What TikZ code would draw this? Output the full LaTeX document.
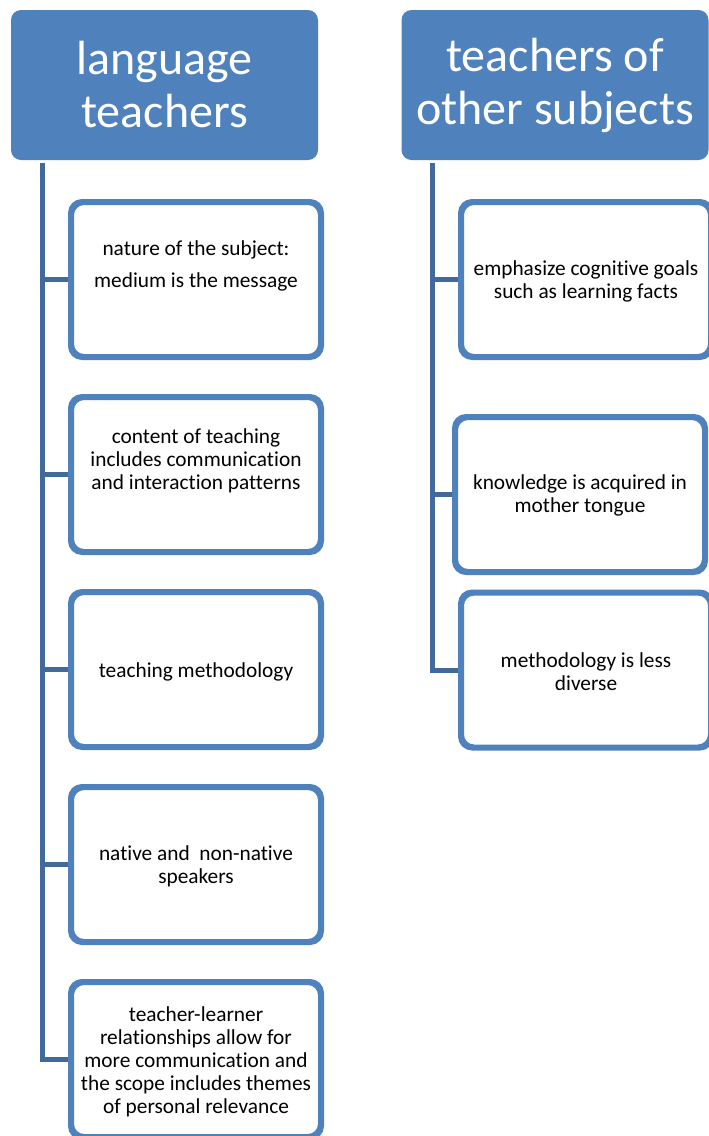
\documentclass[tikz,border=0pt]{standalone}
\usepackage{fontspec}
\setmainfont{Carlito}[Ligatures=NoCommon]
\definecolor{headblue}{HTML}{4F81BD}
\definecolor{boxblue}{HTML}{4F81BD}
\definecolor{linkblue}{HTML}{41699B}
\begin{document}
\begin{tikzpicture}[x=0.75pt,y=-0.75pt,
  header/.style={draw=none,fill=headblue,rounded corners=7.5pt,
    minimum width=230.25pt,minimum height=112.5pt,inner sep=0pt,
    text=white,align=center,font=\fontsize{36}{39.75}\selectfont},
  itembox/.style={draw=boxblue,line width=3pt,fill=white,rounded corners=9pt,
    minimum width=186pt,minimum height=114.75pt,inner sep=0pt},
  itemtext/.style={align=center,inner sep=0pt,text=black,yshift=-1.5pt,
    font=\fontsize{16}{17.25}\selectfont},
  link/.style={draw=linkblue,line width=3.75pt}]
\useasboundingbox (0,0) rectangle (709,1136);

% column headings
\node[header] (h1) at (164.5,85) {language\\teachers};
\node[header] (h2) at (555,85) {teachers of\\other subjects};

% left column boxes
\node[itembox] (l1) at (196,279.5) {};
\node[itembox] (l2) at (196,474.5) {};
\node[itembox] (l3) at (196,669.5) {};
\node[itembox] (l4) at (196,864.5) {};
\node[itembox] (l5) at (196,1059.5) {};

% right column boxes
\node[itembox] (r1) at (586,279.5) {};
\node[itembox] (r2) at (580,494.5) {};
\node[itembox] (r3) at (586,670) {};

% spines and branches
\coordinate (ls) at (42,163);
\coordinate (rs) at (432,163);

\draw[link] (ls) |- (l5.west);
\draw[link] (ls |- l1.west) -- (l1.west);
\draw[link] (ls |- l2.west) -- (l2.west);
\draw[link] (ls |- l3.west) -- (l3.west);
\draw[link] (ls |- l4.west) -- (l4.west);

\draw[link] (rs) |- (r3.west);
\draw[link] (rs |- r1.west) -- (r1.west);
\draw[link] (rs |- r2.west) -- (r2.west);

% box outlines drawn again over the branch ends
\foreach \b in {l1,l2,l3,l4,l5,r1,r2,r3}{
  \draw[boxblue,line width=3pt,rounded corners=9pt]
    (\b.north west) rectangle (\b.south east);
}

% box texts
\node[itemtext] (lt1) at (196,264) {nature of the subject:\\[7pt]medium is the message};
\node[itemtext] (lt2) at (196,459) {content of teaching\\includes communication\\and interaction patterns};
\node[itemtext] (lt3) at (l3.center) {teaching methodology};
\node[itemtext] (lt4) at (l4.center) {native and\ \ non-native\\speakers};
\node[itemtext] (lt5) at (l5.center) {teacher-learner\\relationships allow for\\more communication and\\the scope includes themes\\of personal relevance};

\node[itemtext] (rt1) at (r1.center) {emphasize cognitive goals\\such as learning facts};
\node[itemtext] (rt2) at (580,493.5) {knowledge is acquired in\\mother tongue};
\node[itemtext] (rt3) at (r3.center) {methodology is less\\diverse};
\end{tikzpicture}
\end{document}
